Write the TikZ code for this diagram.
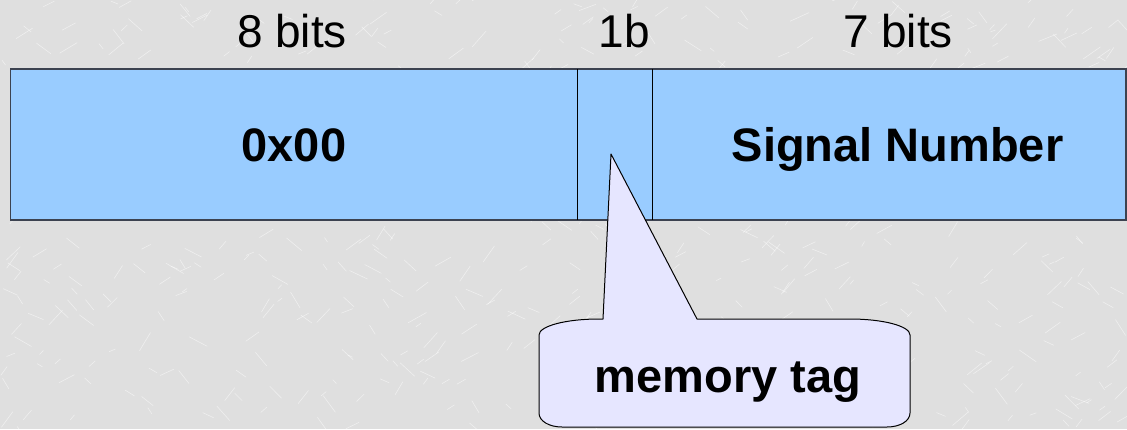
\documentclass[tikz,border=0pt]{standalone}
\usepackage{fontspec}
\setmainfont{Liberation Sans}
\definecolor{marble}{HTML}{DFDFDF}
\definecolor{fieldblue}{HTML}{99CCFF}
\definecolor{framegray}{HTML}{3C4250}
\definecolor{tagfill}{HTML}{E6E6FF}
\tikzset{
  field/.style={fill=fieldblue, draw=none, inner sep=0pt},
  bitlabel/.style={anchor=base, inner sep=0pt, font=\fontsize{46}{55}\selectfont},
  fieldtext/.style={anchor=base, inner sep=0pt, font=\fontsize{47}{56}\selectfont\bfseries},
  divider/.style={draw=black, line width=1.2pt},
  tagshape/.style={fill=tagfill, draw=black, line width=1pt, line join=round},
  vein/.style={white, opacity=0.5, line width=0.6pt, line cap=round},
}
\begin{document}
\begin{tikzpicture}[x=1pt, y=-1pt]
  % marble backdrop with faint veins
  \fill[marble] (0,0) rectangle (1127,429);
  \useasboundingbox (0,0) rectangle (1127,429);
  \pgfmathsetseed{11}
  \foreach \i in {1,...,700} {
    \pgfmathsetmacro\xa{rnd*1127}
    \pgfmathsetmacro\ya{rnd*429}
    \pgfmathsetmacro\len{5+rnd*16}
    \pgfmathsetmacro\ang{rnd<0.6 ? (-20-rnd*40) : (20+rnd*40)}
    \draw[vein]
      (\xa,\ya) -- ++({\len*cos(\ang)},{\len*sin(\ang)});
  }

  % the three fields of the word
  \node[field, minimum width=567pt, minimum height=151pt] (f0) at (294,144.5) {};
  \node[field, minimum width=75pt, minimum height=151pt] (mt) at (615.5,144.5) {};
  \node[field, minimum width=473pt, minimum height=151pt] (sn) at (889.5,144.5) {};
  \draw[draw=framegray, line width=1.6pt] (f0.north west) rectangle (sn.south east);
  \draw[divider] (f0.north east) -- (f0.south east);
  \draw[divider] (sn.north west) -- (sn.south west);

  % field contents
  \node[fieldtext] (t0) at (294,161) {0x00};
  \node[fieldtext] (tsn) at (897.5,161) {Signal Number};

  % widths above the fields
  \node[bitlabel] (b8) at (292,47) {8 bits};
  \node[bitlabel] (b1) at (624,47) {1b};
  \node[bitlabel] (b7) at (898,47) {7 bits};

  % callout pointing into the tag bit
  \coordinate (tip) at (611,154);
  \path[tagshape]
    (tip) -- (697,319) -- (850,319)
    .. controls (883,319) and (910,326) .. (910,335)
    -- (910,413)
    .. controls (910,421) and (900,427) .. (887,427)
    -- (562,427)
    .. controls (549,427) and (539,421) .. (539,413)
    -- (539,335)
    .. controls (539,326) and (566,319) .. (599,319)
    -- (603,319) -- cycle;
  \node[fieldtext] (tag) at (728,392) {memory tag};
\end{tikzpicture}
\end{document}
